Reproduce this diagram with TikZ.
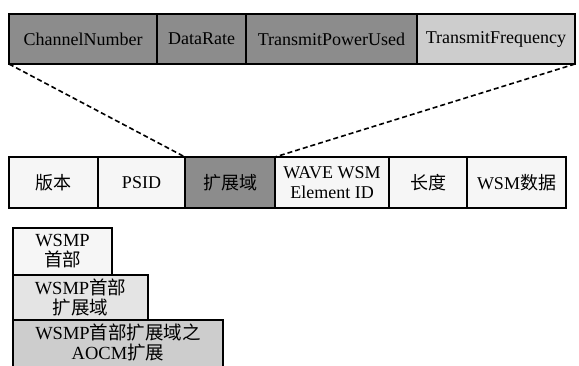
\documentclass[tikz,border=0pt]{standalone}
\usepackage{fontspec}
\setmainfont{Liberation Serif}
\newfontfamily\cjk{Noto Sans CJK SC}
\usepackage{xcolor}
\usepackage{tikz}
\usetikzlibrary{positioning}

\newcommand{\zh}[1]{{\cjk #1}}
\definecolor{darkfield}{HTML}{8C8C8C}
\definecolor{lightfield}{HTML}{CDCDCD}
\definecolor{paperfield}{HTML}{F6F6F6}

\tikzset{
  field/.style={draw, line width=1.5pt, inner sep=1pt, outer sep=0pt,
    align=center, font=\fontsize{18}{20}\selectfont, minimum height=50pt},
  hdrbox/.style={field, anchor=north west, inner sep=0pt, font=\fontsize{18.5}{20}\selectfont}
}

\begin{document}
\begin{tikzpicture}[x=1pt, y=-1pt]
\useasboundingbox (0,0) rectangle (579,365);

% campos da extensao
\node[field, fill=darkfield, minimum width=148pt, anchor=north west] (cn) at (9,14) {ChannelNumber};
\node[field, fill=darkfield, minimum width=89pt, right=0pt of cn] (dr) {DataRate};
\node[field, fill=darkfield, minimum width=171pt, right=0pt of dr] (tp) {TransmitPowerUsed};
\node[field, fill=lightfield, minimum width=158pt, right=0pt of tp] (tf) {TransmitFrequency};

% cabecalho WSM
\node[field, fill=paperfield, minimum width=89pt, minimum height=51pt, anchor=north west] (ver) at (9,157) {\zh{版本}};
\node[field, fill=paperfield, minimum width=87pt, minimum height=51pt, right=0pt of ver] (psid) {PSID};
\node[field, fill=darkfield, minimum width=90pt, minimum height=51pt, right=0pt of psid] (ext) {\zh{扩展域}};
\node[field, fill=paperfield, minimum width=114pt, minimum height=51pt, right=0pt of ext] (eid) {WAVE WSM\\Element ID};
\node[field, fill=paperfield, minimum width=78pt, minimum height=51pt, right=0pt of eid] (len) {\zh{长度}};
\node[field, fill=paperfield, minimum width=99pt, minimum height=51pt, right=0pt of len] (data) {WSM\zh{数据}};

% linhas tracejadas
\draw[dash pattern=on 5pt off 3pt, line width=1.6pt] (cn.south west) -- (ext.north west);
\draw[dash pattern=on 5pt off 3pt, line width=1.6pt] (tf.south east) -- (ext.north east);

% legenda
\node[hdrbox, fill=paperfield, minimum width=99pt, minimum height=47pt] (hdr) at (13,228) {WSMP\\\zh{首部}};
\node[hdrbox, fill=paperfield!55!lightfield, minimum width=135pt, minimum height=45pt] (hext) at (13,275) {WSMP\zh{首部}\\\zh{扩展域}};
\node[hdrbox, fill=lightfield, minimum width=210pt, minimum height=52pt, text depth=9pt] (aocm) at (13,320) {WSMP\zh{首部扩展域之}\\AOCM\zh{扩展}};

\end{tikzpicture}
\end{document}
